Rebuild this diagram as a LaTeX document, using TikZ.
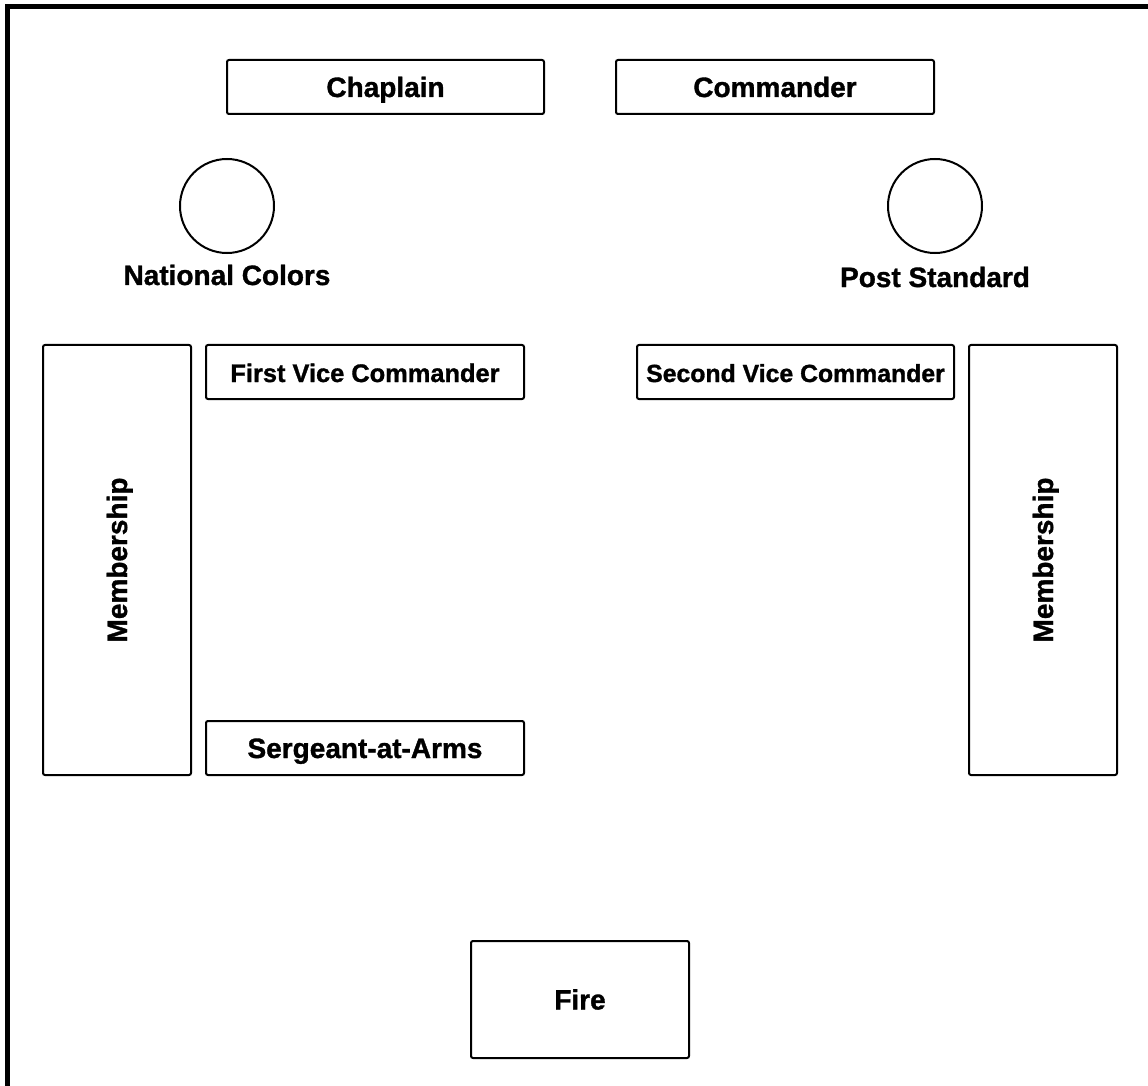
\documentclass[tikz,border=0pt]{standalone}
\usepackage{fontspec}
\setmainfont{Liberation Sans}[BoldFeatures={FakeBold=1.2}]
\tikzset{
   seat/.style={draw, line width=1pt, rounded corners=1pt, inner sep=0pt,
      text height=10pt, text depth=0pt, font=\bfseries\fontsize{14}{16}\selectfont},
   flag/.style={circle, draw, line width=1pt, minimum size=47pt, inner sep=0pt},
   flaglabel/.style={anchor=base, inner sep=0pt, font=\bfseries\fontsize{14}{16}\selectfont},
}
\begin{document}
\begin{tikzpicture}[x=0.5pt, y=-0.5pt]
   \useasboundingbox (0,0) rectangle (1148,1086);
   % walls of the hall
   \draw[line width=2.5pt] (7.5,1086) |- (1148,6.5);

   % front of the hall
   \node[seat, minimum width=158.5pt, minimum height=27pt] (chaplain) at (385.5,87) {Chaplain};
   \node[seat, minimum width=159pt, minimum height=27pt] (commander) at (775,87) {Commander};

   % colors
   \node[flag] (natcolors) at (227,206) {};
   \node[flaglabel] (natcolorslabel) at (227,285) {National Colors};
   \node[flag] (poststandard) at (935,206) {};
   \node[flaglabel] (poststandardlabel) at (935,287) {Post Standard};

   % officers
   \node[seat, minimum width=159pt, minimum height=27pt, font=\bfseries\fontsize{12.7}{15}\selectfont] (firstvice) at (365,372) {First Vice Commander};
   \node[seat, minimum width=158.5pt, minimum height=27pt, font=\bfseries\fontsize{12.4}{15}\selectfont] (secondvice) at (795.5,372) {Second Vice Commander};
   \node[seat, minimum width=159pt, minimum height=27pt] (sergeant) at (365,748) {Sergeant-at-Arms};

   % membership
   \foreach \x/\side in {117/left, 1043/right} {
      \node[seat, rotate=90, minimum width=215pt, minimum height=74pt] (member\side) at (\x,560) {Membership};
   }

   % fire
   \node[seat, minimum width=109pt, minimum height=58.5pt] (fire) at (580,999.5) {Fire};
\end{tikzpicture}
\end{document}
